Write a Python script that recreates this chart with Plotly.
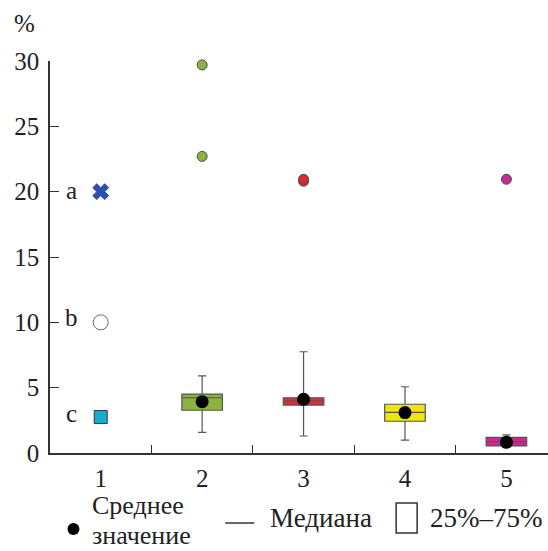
import plotly.graph_objects as go

# ---- data ----
cat_labels = ["1", "2", "3", "4", "5"]
box_x = [2, 3, 4, 5]
box_q1 = [3.27, 3.67, 2.43, 0.54]
box_median = [4.23, 3.98, 3.11, 0.87]
box_q3 = [4.51, 4.23, 3.73, 1.20]
box_low = [1.58, 1.30, 0.99, 0.45]
box_high = [5.91, 7.75, 5.07, 1.38]
box_mean = [3.93, 4.11, 3.09, 0.82]
box_colors = ["#8cb33f", "#e0293c", "#f0e60f", "#c52a97"]

outlier_x = [2, 2, 3, 3, 5]
outlier_y = [29.7, 22.7, 20.8, 20.95, 20.95]
outlier_colors = ["#8cb33f", "#8cb33f", "#de2a35", "#de2a35", "#c52a97"]

ref_labels = ["a", "b", "c"]
ref_x = [1, 1, 1]
ref_y = [20.0, 10.0, 2.75]

FONT = "Liberation Serif"
FS = 25
LFS = 27
LFS2 = 26

# plot area in pixels (for legend placement helpers)
PX_L, PX_R, PX_T, PX_B = 49.5, 548.0, 61.0, 453.0

def px2paper_x(x):
    return (x - PX_L) / (PX_R - PX_L)

def px2paper_y(y):
    return (PX_B - y) / (PX_B - PX_T)

fig = go.Figure()

for i in range(len(box_x)):
    fig.add_trace(go.Box(
        x=[box_x[i]], q1=[box_q1[i]], median=[box_median[i]], q3=[box_q3[i]],
        lowerfence=[box_low[i]], upperfence=[box_high[i]],
        fillcolor=box_colors[i], line=dict(color="#555555", width=1.2),
        width=0.4, whiskerwidth=0.2, boxpoints=False, showlegend=False,
        hoverinfo="skip"))

# means
fig.add_trace(go.Scatter(
    x=box_x, y=box_mean, mode="markers", cliponaxis=False,
    marker=dict(color="black", size=13), showlegend=False))

# outliers
fig.add_trace(go.Scatter(
    x=outlier_x, y=outlier_y, mode="markers", cliponaxis=False,
    marker=dict(color=outlier_colors, size=10, line=dict(color="#4a4a4a", width=1)),
    showlegend=False))

# reference markers at category 1
fig.add_trace(go.Scatter(
    x=ref_x, y=ref_y, mode="markers", cliponaxis=False,
    marker=dict(symbol=["x", "circle", "square"],
                color=["#2f4fb0", "white", "#16aed0"],
                size=[14, 15, 13], opacity=1,
                line=dict(color=["#2f4fb0", "#666666", "#333333"], width=1)),
    showlegend=False))

for lab, yv, ys in zip(ref_labels, ref_y, [1, 5, 4]):
    fig.add_annotation(x=0.71, y=yv, text=lab, showarrow=False, yshift=ys,
                       xanchor="center", yanchor="middle",
                       font=dict(family=FONT, size=FS, color="#222"))

# "%" label
fig.add_annotation(xref="paper", yref="paper", x=px2paper_x(24), y=px2paper_y(24),
                   text="%", showarrow=False, xanchor="center", yanchor="middle",
                   font=dict(family=FONT, size=FS, color="#222"))

# ---- custom legend ----
fig.add_shape(type="circle", xref="paper", yref="paper",
              x0=px2paper_x(67), x1=px2paper_x(79), y0=px2paper_y(535), y1=px2paper_y(523),
              fillcolor="black", line=dict(color="black", width=0))
fig.add_annotation(xref="paper", yref="paper", x=px2paper_x(90), y=px2paper_y(506),
                   text="Среднее", showarrow=False, xanchor="left",
                   yanchor="middle", align="left",
                   font=dict(family=FONT, size=LFS2, color="#222"))
fig.add_annotation(xref="paper", yref="paper", x=px2paper_x(90), y=px2paper_y(535),
                   text="значение", showarrow=False, xanchor="left",
                   yanchor="middle", align="left",
                   font=dict(family=FONT, size=LFS2, color="#222"))
fig.add_shape(type="line", xref="paper", yref="paper",
              x0=px2paper_x(225), x1=px2paper_x(254), y0=px2paper_y(523), y1=px2paper_y(523),
              line=dict(color="#333", width=1.5))
fig.add_annotation(xref="paper", yref="paper", x=px2paper_x(268), y=px2paper_y(518),
                   text="Медиана", showarrow=False, xanchor="left", yanchor="middle",
                   font=dict(family=FONT, size=LFS, color="#222"))
fig.add_shape(type="rect", xref="paper", yref="paper",
              x0=px2paper_x(396), x1=px2paper_x(417), y0=px2paper_y(533), y1=px2paper_y(503),
              line=dict(color="#333", width=1.5), fillcolor="rgba(0,0,0,0)")
fig.add_annotation(xref="paper", yref="paper", x=px2paper_x(428), y=px2paper_y(518),
                   text="25%–75%", showarrow=False, xanchor="left", yanchor="middle",
                   font=dict(family=FONT, size=LFS, color="#222"))

fig.update_layout(
    width=548, height=551,
    margin=dict(l=PX_L, r=548 - PX_R, t=PX_T, b=551 - PX_B, pad=0),
    paper_bgcolor="white", plot_bgcolor="white",
    boxmode="overlay", showlegend=False,
    font=dict(family=FONT, size=FS, color="#222"),
    xaxis=dict(range=[0.5, 5.41], tickmode="array", tickvals=[1, 2, 3, 4, 5],
               ticktext=cat_labels, ticks="", showgrid=False, zeroline=False,
               showline=True, linecolor="#333", linewidth=1.5,
               ticklabelstandoff=2,
               tickfont=dict(family=FONT, size=FS, color="#222"),
               minor=dict(tickmode="array", tickvals=[1.5, 2.5, 3.5, 4.5],
                          ticks="inside", ticklen=8, tickwidth=1.2, tickcolor="#333",
                          showgrid=False),
               fixedrange=True),
    yaxis=dict(range=[0, 30], tickmode="array", tickvals=[0, 5, 10, 15, 20, 25, 30],
               ticks="inside", ticklen=9, tickwidth=1.2, tickcolor="#333",
               showgrid=False, zeroline=False, showline=True, linecolor="#333",
               tickfont=dict(family=FONT, size=FS, color="#222"),
               linewidth=1.5, ticklabelstandoff=4, fixedrange=True),
)

fig.write_html("out.html")
